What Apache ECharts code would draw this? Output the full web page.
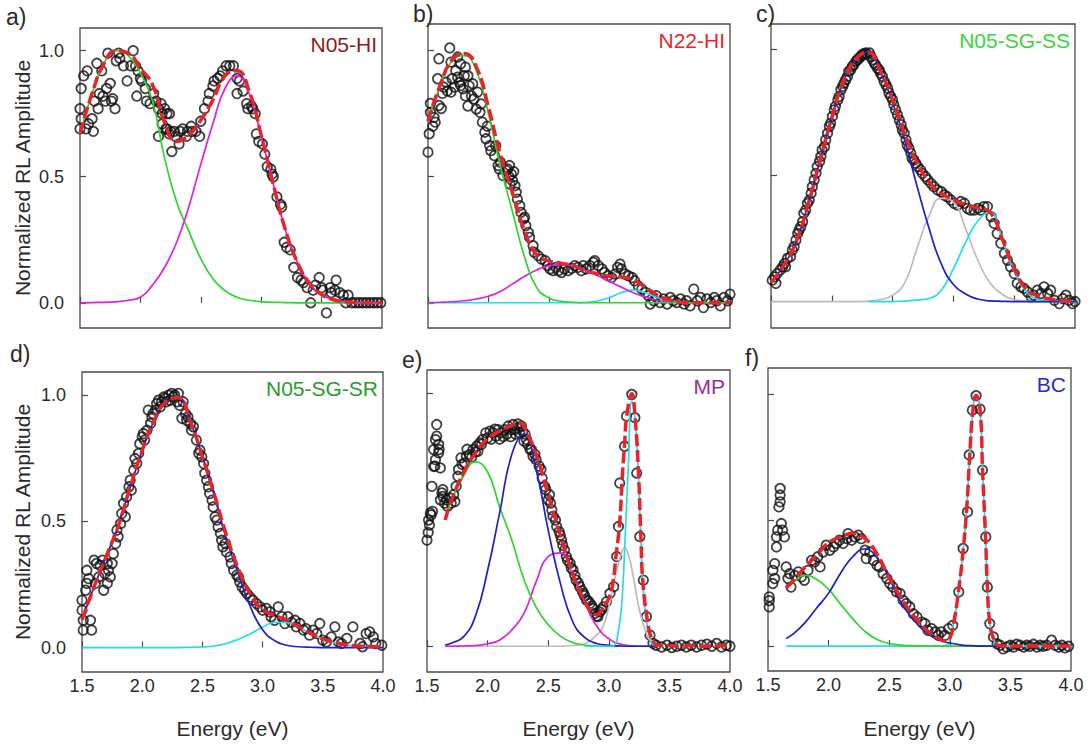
<!DOCTYPE html>
<html><head><meta charset="utf-8">
<script src="https://cdn.jsdelivr.net/npm/echarts@6/dist/echarts.min.js"></script>
<style>html,body{margin:0;padding:0;background:#fff}#c{width:1090px;height:744px}</style>
</head><body><div id="c"></div>
<script>
// ---------------- DATA ----------------
const energyTicks = [1.5, 2.0, 2.5, 3.0, 3.5, 4.0];
const ampTicks = [0, 0.5, 1.0];
const panelLetters = ['a)', 'b)', 'c)', 'd)', 'e)', 'f)'];
const sampleNames = ['N05-HI', 'N22-HI', 'N05-SG-SS', 'N05-SG-SR', 'MP', 'BC'];
const xTitle = 'Energy (eV)';
const yTitle = 'Normalized RL Amplitude';

// energy grid for the fitted curves of panels a-d
const E26 = [1.5,1.6,1.7,1.8,1.9,2.0,2.1,2.2,2.3,2.4,2.5,2.6,2.7,2.8,2.9,3.0,3.1,3.2,3.3,3.4,3.5,3.6,3.7,3.8,3.9,4.0];
// energy grid for broad components of panels e-f
const E19 = [1.65,1.7,1.8,1.9,2.0,2.1,2.2,2.3,2.4,2.5,2.6,2.7,2.8,2.9,3.0,3.1,3.2,3.3,3.4];

// ---- panel a: N05-HI ----
const ptsA = [[1.50,0.69],[1.50,0.77],[1.51,0.73],[1.51,0.85],[1.53,0.90],[1.55,0.69],[1.56,0.92],[1.57,0.71],[1.61,0.68],[1.60,0.73],[1.62,0.80],[1.64,0.95],[1.65,0.77],[1.66,0.83],[1.68,0.92],[1.69,0.82],[1.71,0.80],[1.72,0.85],[1.73,0.99],[1.75,0.87],[1.76,0.80],[1.77,0.81],[1.79,0.77],[1.80,0.96],[1.82,0.99],[1.83,0.97],[1.86,0.94],[1.89,0.88],[1.92,0.94],[1.94,1.00],[1.96,0.94],[1.98,0.92],[2.00,0.89],[1.97,0.82],[2.01,0.88],[2.04,0.85],[2.05,0.80],[2.08,0.79],[2.11,0.83],[2.13,0.80],[2.15,0.77],[2.17,0.79],[2.18,0.75],[2.20,0.77],[2.22,0.75],[2.24,0.75],[2.25,0.68],[2.15,0.66],[2.18,0.71],[2.21,0.69],[2.22,0.69],[2.24,0.67],[2.28,0.68],[2.26,0.60],[2.29,0.66],[2.32,0.63],[2.33,0.68],[2.35,0.69],[2.38,0.66],[2.39,0.68],[2.42,0.70],[2.43,0.68],[2.46,0.68],[2.49,0.66],[2.50,0.72],[2.53,0.77],[2.56,0.80],[2.57,0.83],[2.60,0.86],[2.61,0.88],[2.64,0.89],[2.66,0.90],[2.68,0.92],[2.71,0.94],[2.74,0.94],[2.77,0.94],[2.80,0.89],[2.80,0.83],[2.82,0.88],[2.85,0.84],[2.88,0.79],[2.89,0.77],[2.92,0.78],[2.93,0.77],[2.95,0.75],[2.96,0.67],[2.98,0.64],[3.01,0.63],[3.03,0.59],[3.05,0.54],[3.08,0.53],[3.09,0.51],[3.10,0.50],[3.13,0.42],[3.16,0.39],[3.17,0.38],[3.19,0.24],[3.21,0.22],[3.24,0.21],[3.27,0.14],[3.30,0.10],[3.33,0.09],[3.35,0.08],[3.38,0.06],[3.41,0.00],[3.43,0.05],[3.45,0.07],[3.48,0.10],[3.50,0.06],[3.51,0.05],[3.54,-0.04],[3.57,0.06],[3.58,0.04],[3.61,0.05],[3.62,0.09],[3.65,0.04],[3.68,0.03],[3.70,0.00],[3.72,0.03],[3.75,0.00],[3.78,0.00],[3.81,0.00],[3.84,0.00],[3.87,0.00],[3.90,0.00],[3.93,0.00],[3.96,0.00],[3.99,0.00]];
const fitA     = [0.67,0.83,0.95,1.00,0.99,0.93,0.865,0.715,0.64,0.665,0.725,0.805,0.90,0.92,0.84,0.665,0.47,0.29,0.16,0.078,0.033,0.012,0.004,0.001,0,0];
const greenA   = [0.67,0.83,0.95,1.00,0.98,0.91,0.80,0.575,0.40,0.285,0.175,0.095,0.048,0.022,0.01,0.005,0.002,0.001,0,0,0,0,0,0,0,0];
const magentaA = [0,0.001,0.002,0.004,0.01,0.022,0.07,0.14,0.24,0.38,0.55,0.71,0.85,0.90,0.83,0.66,0.47,0.29,0.16,0.078,0.033,0.012,0.004,0.001,0,0];

// ---- panel b: N22-HI ----
const ptsB = [[1.50,0.597],[1.51,0.67],[1.52,0.755],[1.52,0.79],[1.54,0.70],[1.55,0.735],[1.56,0.716],[1.58,0.888],[1.59,0.782],[1.59,0.967],[1.61,0.77],[1.62,0.83],[1.63,0.855],[1.65,0.874],[1.66,0.84],[1.68,1.01],[1.69,0.954],[1.69,0.835],[1.70,0.888],[1.72,0.855],[1.73,0.92],[1.745,0.974],[1.745,0.894],[1.76,0.874],[1.77,0.947],[1.77,0.861],[1.79,0.848],[1.80,0.90],[1.81,0.934],[1.81,0.82],[1.83,0.90],[1.83,0.78],[1.84,0.861],[1.86,0.82],[1.87,0.868],[1.88,0.808],[1.90,0.768],[1.91,0.835],[1.93,0.755],[1.94,0.788],[1.95,0.716],[1.97,0.676],[1.98,0.65],[1.99,0.70],[2.01,0.623],[2.02,0.603],[2.05,0.583],[2.06,0.623],[2.08,0.544],[2.09,0.53],[2.10,0.557],[2.12,0.504],[2.15,0.524],[2.16,0.53],[2.17,0.50],[2.175,0.544],[2.18,0.47],[2.19,0.51],[2.20,0.484],[2.21,0.52],[2.22,0.464],[2.23,0.438],[2.24,0.411],[2.26,0.385],[2.27,0.358],[2.29,0.332],[2.30,0.339],[2.31,0.306],[2.33,0.279],[2.34,0.259],[2.37,0.226],[2.38,0.20],[2.41,0.187],[2.44,0.173],[2.47,0.167],[2.49,0.147],[2.51,0.134],[2.535,0.127],[2.56,0.14],[2.58,0.127],[2.605,0.12],[2.63,0.134],[2.66,0.127],[2.69,0.136],[2.715,0.147],[2.74,0.14],[2.77,0.127],[2.785,0.147],[2.81,0.134],[2.84,0.147],[2.87,0.16],[2.88,0.167],[2.91,0.147],[2.94,0.134],[2.96,0.12],[2.99,0.107],[3.02,0.10],[3.05,0.114],[3.07,0.14],[3.09,0.153],[3.10,0.134],[3.13,0.114],[3.16,0.107],[3.19,0.10],[3.21,0.087],[3.24,0.067],[3.27,0.054],[3.30,0.041],[3.325,0.028],[3.34,-0.005],[3.37,0.008],[3.39,0.028],[3.42,0.001],[3.45,0.015],[3.48,-0.005],[3.505,0.021],[3.53,0.008],[3.56,0.001],[3.59,0.015],[3.62,-0.005],[3.64,0.008],[3.67,-0.012],[3.70,0.054],[3.73,0.008],[3.755,0.021],[3.78,-0.019],[3.81,0.015],[3.84,0.001],[3.87,0.021],[3.89,0.008],[3.92,-0.012],[3.95,0.021],[3.98,0.008],[4.0,0.034]];
const fitB     = [0.72,0.862,0.964,0.988,0.935,0.776,0.585,0.435,0.285,0.19,0.166,0.157,0.147,0.129,0.115,0.105,0.102,0.09,0.062,0.03,0.011,0.002,0,0,0,0];
const greenB   = [0.72,0.86,0.96,0.98,0.92,0.75,0.54,0.36,0.18,0.06,0.02,0.006,0.002,0,0,0,0,0,0,0,0,0,0,0,0,0];
const magentaB = [0.001,0.002,0.004,0.008,0.015,0.026,0.045,0.075,0.105,0.13,0.146,0.151,0.145,0.128,0.108,0.085,0.062,0.04,0.022,0.01,0.004,0.001,0,0,0,0];
const cyanB    = [0,0,0,0,0,0,0,0,0,0,0,0,0,0.001,0.007,0.02,0.04,0.05,0.04,0.02,0.007,0.001,0,0,0,0];

// ---- panel c: N05-SG-SS ----
const ptsC = [[1.51,0.085],[1.53,0.098],[1.54,0.072],[1.55,0.111],[1.575,0.125],[1.595,0.138],[1.61,0.151],[1.62,0.138],[1.635,0.171],[1.66,0.178],[1.675,0.204],[1.69,0.218],[1.705,0.244],[1.72,0.27],[1.73,0.284],[1.745,0.297],[1.76,0.317],[1.77,0.35],[1.785,0.363],[1.80,0.39],[1.815,0.403],[1.83,0.43],[1.84,0.456],[1.855,0.483],[1.87,0.509],[1.88,0.536],[1.90,0.556],[1.91,0.576],[1.92,0.602],[1.94,0.615],[1.95,0.642],[1.965,0.668],[1.98,0.695],[1.99,0.708],[2.005,0.735],[2.02,0.761],[2.03,0.775],[2.05,0.801],[2.06,0.814],[2.075,0.841],[2.09,0.854],[2.10,0.867],[2.115,0.881],[2.13,0.894],[2.14,0.914],[2.155,0.92],[2.17,0.934],[2.18,0.94],[2.20,0.954],[2.21,0.96],[2.225,0.967],[2.24,0.973],[2.25,0.98],[2.265,0.984],[2.28,0.987],[2.29,0.98],[2.31,0.987],[2.32,0.973],[2.335,0.96],[2.35,0.947],[2.36,0.94],[2.375,0.927],[2.39,0.92],[2.40,0.907],[2.415,0.894],[2.43,0.874],[2.445,0.861],[2.46,0.847],[2.47,0.828],[2.485,0.814],[2.50,0.801],[2.51,0.781],[2.525,0.761],[2.54,0.741],[2.555,0.721],[2.57,0.702],[2.58,0.682],[2.595,0.668],[2.61,0.642],[2.62,0.622],[2.635,0.609],[2.65,0.589],[2.66,0.569],[2.675,0.562],[2.69,0.549],[2.705,0.536],[2.73,0.523],[2.745,0.509],[2.77,0.496],[2.79,0.483],[2.815,0.469],[2.84,0.456],[2.87,0.443],[2.90,0.436],[2.925,0.423],[2.95,0.416],[2.98,0.403],[3.005,0.39],[3.035,0.383],[3.06,0.397],[3.09,0.39],[3.115,0.37],[3.14,0.363],[3.17,0.363],[3.20,0.37],[3.225,0.363],[3.25,0.377],[3.28,0.377],[3.31,0.337],[3.335,0.31],[3.36,0.27],[3.39,0.231],[3.42,0.191],[3.445,0.164],[3.47,0.138],[3.50,0.111],[3.525,0.072],[3.555,0.058],[3.58,0.052],[3.61,0.038],[3.64,0.019],[3.66,0.025],[3.69,0.045],[3.72,0.032],[3.745,0.058],[3.775,0.032],[3.80,0.045],[3.83,0.005],[3.87,-0.008],[3.90,0.012],[3.925,0.025],[3.95,0.005],[3.98,-0.008],[4.0,0]];
const fitC  = [0.075,0.14,0.23,0.377,0.555,0.73,0.88,0.965,0.99,0.915,0.80,0.665,0.555,0.475,0.43,0.405,0.385,0.372,0.355,0.25,0.13,0.05,0.022,0.01,0.004,0];
const blueC = [0.075,0.14,0.23,0.377,0.555,0.73,0.88,0.965,0.99,0.91,0.79,0.64,0.46,0.29,0.15,0.068,0.03,0.01,0.003,0.001,0,0,0,0,0,0];
const grayC = [0,0,0,0,0,0,0,0,0.002,0.008,0.025,0.075,0.21,0.34,0.41,0.395,0.29,0.165,0.075,0.03,0.008,0.002,0,0,0,0];
const cyanC = [null,null,null,null,null,null,null,null,0,0,0,0.002,0.006,0.012,0.045,0.13,0.235,0.32,0.355,0.25,0.12,0.04,0.008,0.001,0,0];

// ---- panel d: N05-SG-SR ----
const ptsD = [[1.50,0.188],[1.50,0.148],[1.51,0.108],[1.51,0.069],[1.53,0.227],[1.54,0.306],[1.54,0.254],[1.555,0.273],[1.57,0.108],[1.58,0.069],[1.60,0.346],[1.61,0.254],[1.62,0.333],[1.64,0.28],[1.65,0.326],[1.67,0.346],[1.68,0.227],[1.69,0.293],[1.71,0.254],[1.71,0.333],[1.72,0.306],[1.735,0.28],[1.75,0.333],[1.76,0.372],[1.78,0.412],[1.79,0.465],[1.80,0.439],[1.82,0.491],[1.83,0.531],[1.845,0.571],[1.86,0.518],[1.87,0.597],[1.89,0.637],[1.90,0.663],[1.91,0.624],[1.93,0.703],[1.94,0.749],[1.955,0.729],[1.97,0.769],[1.98,0.808],[2.00,0.835],[2.01,0.848],[2.02,0.822],[2.04,0.861],[2.05,0.941],[2.07,0.888],[2.08,0.914],[2.09,0.927],[2.11,0.941],[2.12,0.967],[2.135,0.98],[2.15,0.954],[2.16,0.974],[2.18,0.993],[2.19,0.987],[2.20,0.974],[2.22,1.0],[2.23,0.98],[2.245,1.007],[2.26,0.993],[2.27,1.0],[2.29,0.974],[2.30,1.007],[2.31,0.96],[2.33,0.908],[2.34,0.974],[2.36,0.927],[2.37,0.90],[2.38,0.914],[2.40,0.888],[2.41,0.861],[2.425,0.875],[2.45,0.822],[2.47,0.769],[2.48,0.782],[2.495,0.756],[2.51,0.729],[2.52,0.69],[2.535,0.663],[2.55,0.637],[2.56,0.61],[2.58,0.584],[2.59,0.557],[2.605,0.518],[2.62,0.505],[2.63,0.478],[2.65,0.452],[2.66,0.425],[2.67,0.399],[2.69,0.412],[2.70,0.379],[2.73,0.359],[2.74,0.333],[2.76,0.306],[2.785,0.287],[2.80,0.28],[2.81,0.26],[2.83,0.24],[2.85,0.227],[2.87,0.214],[2.895,0.20],[2.92,0.188],[2.95,0.174],[2.98,0.161],[3.0,0.148],[3.03,0.155],[3.06,0.141],[3.07,0.122],[3.10,0.108],[3.13,0.161],[3.16,0.122],[3.185,0.095],[3.21,0.122],[3.24,0.10],[3.27,0.108],[3.28,0.082],[3.31,0.095],[3.34,0.069],[3.36,0.075],[3.39,0.049],[3.42,0.069],[3.45,0.055],[3.475,0.095],[3.50,0.029],[3.53,0.022],[3.57,0.042],[3.60,0.082],[3.63,0.022],[3.655,0.016],[3.70,0.036],[3.75,0.082],[3.81,0.016],[3.83,0.003],[3.86,0.055],[3.89,0.062],[3.92,0.042],[3.94,0.016],[3.99,0.009]];
const fitD  = [0.11,0.24,0.36,0.48,0.635,0.78,0.90,0.975,0.99,0.895,0.757,0.605,0.445,0.31,0.21,0.15,0.127,0.109,0.083,0.056,0.034,0.02,0.011,0.006,0.004,0.003];
const blueD = [0.11,0.24,0.36,0.48,0.635,0.78,0.90,0.975,0.99,0.895,0.757,0.60,0.43,0.29,0.16,0.07,0.027,0.009,0.003,0.001,0,0,0,0,0,0];
const cyanD = [0,0,0,0,0,0,0,0,0,0.001,0.002,0.006,0.016,0.033,0.055,0.08,0.10,0.10,0.08,0.055,0.034,0.019,0.01,0.005,0.002,0.001];

// ---- panel e: MP ----
const ptsE = [[1.50,0.42],[1.51,0.45],[1.513,0.50],[1.52,0.48],[1.527,0.527],[1.535,0.52],[1.54,0.633],[1.545,0.534],[1.555,0.712],[1.555,0.779],[1.565,0.713],[1.57,0.739],[1.57,0.818],[1.58,0.878],[1.58,0.832],[1.596,0.799],[1.596,0.766],[1.60,0.779],[1.61,0.706],[1.61,0.58],[1.623,0.607],[1.63,0.62],[1.63,0.593],[1.645,0.567],[1.66,0.58],[1.67,0.554],[1.69,0.587],[1.70,0.567],[1.72,0.60],[1.73,0.573],[1.74,0.633],[1.755,0.673],[1.76,0.70],[1.78,0.746],[1.79,0.72],[1.81,0.726],[1.825,0.752],[1.83,0.78],[1.85,0.759],[1.87,0.75],[1.88,0.779],[1.90,0.77],[1.91,0.792],[1.92,0.772],[1.935,0.805],[1.95,0.80],[1.96,0.819],[1.985,0.845],[2.00,0.825],[2.02,0.852],[2.03,0.82],[2.045,0.845],[2.06,0.86],[2.07,0.832],[2.085,0.858],[2.10,0.82],[2.11,0.845],[2.13,0.83],[2.14,0.858],[2.16,0.84],[2.17,0.872],[2.19,0.83],[2.195,0.858],[2.21,0.878],[2.225,0.858],[2.23,0.84],[2.245,0.865],[2.25,0.88],[2.265,0.845],[2.28,0.872],[2.29,0.85],[2.30,0.812],[2.31,0.84],[2.32,0.819],[2.33,0.80],[2.35,0.779],[2.36,0.78],[2.375,0.752],[2.39,0.76],[2.40,0.739],[2.425,0.713],[2.44,0.70],[2.45,0.666],[2.47,0.633],[2.48,0.62],[2.50,0.58],[2.51,0.60],[2.52,0.567],[2.53,0.54],[2.54,0.514],[2.56,0.50],[2.57,0.474],[2.59,0.454],[2.60,0.44],[2.61,0.421],[2.62,0.40],[2.635,0.381],[2.65,0.355],[2.66,0.34],[2.68,0.328],[2.69,0.31],[2.705,0.302],[2.72,0.28],[2.73,0.262],[2.75,0.25],[2.76,0.236],[2.78,0.22],[2.79,0.209],[2.80,0.20],[2.816,0.183],[2.83,0.18],[2.845,0.17],[2.86,0.16],[2.87,0.15],[2.885,0.13],[2.90,0.12],[2.91,0.117],[2.925,0.136],[2.94,0.145],[2.955,0.156],[2.98,0.176],[3.01,0.209],[3.04,0.236],[3.065,0.355],[3.08,0.474],[3.09,0.646],[3.13,0.792],[3.146,0.911],[3.19,0.997],[3.215,0.905],[3.23,0.686],[3.256,0.434],[3.285,0.262],[3.31,0.117],[3.34,0.044],[3.365,0.011],[3.39,0.004],[3.435,-0.003],[3.48,0.004],[3.52,-0.005],[3.56,0],[3.60,0.004],[3.64,-0.003],[3.68,0.004],[3.725,-0.003],[3.765,0.004],[3.81,0.008],[3.85,0],[3.89,0.011],[3.93,-0.003],[3.97,0.004],[4.0,0]];
const fitEx = [1.65,1.7,1.8,1.9,2.0,2.1,2.2,2.27,2.3,2.4,2.5,2.6,2.7,2.8,2.9,2.95,3.0,3.03,3.06,3.09,3.11,3.13,3.15,3.19,3.217,3.245,3.264,3.28,3.314,3.34,3.368,3.4,3.5,3.6,3.7,3.8,3.9,4.0];
const fitEy = [0.50,0.575,0.686,0.765,0.822,0.852,0.875,0.885,0.87,0.76,0.60,0.44,0.29,0.18,0.125,0.15,0.19,0.24,0.36,0.49,0.66,0.80,0.92,1.0,0.905,0.686,0.441,0.26,0.117,0.05,0.017,0.005,0.002,0,0.003,0,0.002,0.003];
const greenE   = [0.50,0.575,0.673,0.73,0.69,0.55,0.42,0.265,0.155,0.085,0.04,0.015,0.005,0.001,0,0,0,0,0];
const blueE    = [0.005,0.012,0.037,0.12,0.30,0.53,0.76,0.84,0.70,0.46,0.25,0.10,0.035,0.011,0.004,0.001,0,0,0];
const magentaE = [0,0,0.001,0.003,0.01,0.025,0.065,0.13,0.255,0.355,0.37,0.285,0.175,0.08,0.03,0.008,0.002,0,0];
const grayEx = [1.65,2.6,2.7,2.8,2.9,2.95,3.0,3.05,3.1,3.13,3.16,3.2,3.25,3.3,3.35,3.4,3.45];
const grayEy = [0,0,0.003,0.01,0.045,0.075,0.155,0.27,0.36,0.39,0.365,0.28,0.15,0.065,0.015,0.002,0];
const cyanEx = [2.8,3.0,3.04,3.08,3.11,3.135,3.16,3.19,3.22,3.245,3.265,3.28,3.31,3.34,3.37,3.4,3.45];
const cyanEy = [0,0,0.002,0.064,0.19,0.434,0.70,0.97,0.88,0.67,0.42,0.25,0.10,0.035,0.008,0,0];

// ---- panel f: BC ----
const ptsF = [[1.60,0.625],[1.60,0.599],[1.60,0.572],[1.59,0.552],[1.61,0.486],[1.58,0.46],[1.57,0.433],[1.62,0.46],[1.57,0.393],[1.635,0.433],[1.555,0.327],[1.54,0.30],[1.555,0.268],[1.54,0.248],[1.51,0.195],[1.51,0.155],[1.51,0.18],[1.65,0.314],[1.665,0.268],[1.69,0.234],[1.68,0.287],[1.72,0.28],[1.75,0.294],[1.775,0.274],[1.80,0.261],[1.83,0.30],[1.86,0.34],[1.885,0.334],[1.91,0.354],[1.93,0.314],[1.955,0.373],[1.98,0.40],[2.01,0.38],[2.04,0.393],[2.065,0.407],[2.09,0.42],[2.12,0.407],[2.15,0.426],[2.16,0.446],[2.19,0.42],[2.215,0.433],[2.245,0.44],[2.27,0.426],[2.30,0.38],[2.31,0.347],[2.34,0.373],[2.37,0.34],[2.40,0.32],[2.42,0.314],[2.45,0.287],[2.48,0.268],[2.505,0.248],[2.53,0.234],[2.56,0.215],[2.59,0.208],[2.615,0.181],[2.64,0.168],[2.67,0.155],[2.70,0.128],[2.73,0.115],[2.77,0.095],[2.795,0.089],[2.82,0.062],[2.85,0.069],[2.88,0.056],[2.905,0.042],[2.93,0.056],[2.96,0.042],[2.99,0.069],[3.024,0.082],[3.074,0.215],[3.11,0.387],[3.146,0.532],[3.16,0.758],[3.186,0.936],[3.217,0.993],[3.25,0.94],[3.27,0.698],[3.297,0.433],[3.31,0.234],[3.33,0.089],[3.36,0.036],[3.39,0.009],[3.415,0.003],[3.44,-0.011],[3.47,-0.004],[3.50,0.003],[3.525,-0.004],[3.55,0.007],[3.58,0.003],[3.61,-0.004],[3.635,0.003],[3.66,-0.001],[3.69,0.007],[3.72,-0.004],[3.745,0.003],[3.77,-0.001],[3.80,0.003],[3.84,0.023],[3.87,0.003],[3.90,-0.004],[3.925,0.003],[3.95,-0.007],[3.98,-0.001]];
const fitFx = [1.65,1.7,1.8,1.9,2.0,2.1,2.2,2.3,2.4,2.5,2.6,2.7,2.8,2.9,2.97,3.0,3.03,3.07,3.11,3.14,3.165,3.19,3.217,3.25,3.27,3.295,3.31,3.33,3.36,3.39,3.45,3.6,3.8,4.0];
const fitFy = [0.23,0.255,0.31,0.36,0.41,0.433,0.447,0.427,0.365,0.27,0.19,0.12,0.067,0.032,0.02,0.03,0.085,0.21,0.38,0.55,0.76,0.93,0.995,0.935,0.70,0.43,0.235,0.09,0.03,0.005,0,0,0,0];
const greenF = [0.23,0.25,0.28,0.265,0.225,0.165,0.108,0.058,0.026,0.01,0.004,0.001,0,0,0,0,0,0,0];
const blueF  = [0.03,0.045,0.09,0.15,0.21,0.29,0.355,0.385,0.35,0.27,0.17,0.105,0.055,0.026,0.012,0.004,0.001,0,0];
const cyanFx = [1.65,2.9,2.98,3.0,3.03,3.07,3.11,3.14,3.165,3.19,3.217,3.25,3.27,3.295,3.31,3.33,3.36,3.39,3.45,4.0];
const cyanFy = [0,0,0.005,0.03,0.085,0.21,0.38,0.55,0.76,0.93,0.995,0.935,0.70,0.43,0.235,0.09,0.03,0.003,0,0];

// ---------------- STYLE / LAYOUT ----------------
const FONT = "'Liberation Sans', Arial, Helvetica, sans-serif";
const TXT = '#2a2a2a';
const FRAME = '#4a4a4a';
const COL = {green:'#2ed52e', magenta:'#e020e0', cyan:'#1fe0e8', blue:'#1f1fc4', gray:'#bcbcbc', red:'#e8232a'};
const nameColors = ['#8e1b1b', '#e8262c', '#3ad63a', '#2c9a2c', '#9b2a9b', '#2a2ad2'];

const layout = [
  {left:80,  top:28,  width:302, height:300, yMin:-0.1,   yMax:1.09,  xLab:false, yLab:true},
  {left:428, top:24,  width:302, height:304, yMin:-0.1,   yMax:1.105, xLab:false, yLab:false},
  {left:771, top:24,  width:304, height:304, yMin:-0.105, yMax:1.102, xLab:false, yLab:false},
  {left:82,  top:372, width:301, height:300, yMin:-0.097, yMax:1.092, xLab:true,  yLab:true},
  {left:427, top:370, width:303, height:302, yMin:-0.102, yMax:1.094, xLab:true,  yLab:false},
  {left:768, top:368, width:303, height:303, yMin:-0.099, yMax:1.103, xLab:true,  yLab:false}
];
const letterPos = [[6,5],[413,2],[756,2],[10,342],[402,348],[745,346]];

function zip(xs, ys) {
  const out = [];
  for (let i = 0; i < xs.length; i++) if (ys[i] !== null) out.push([xs[i], ys[i]]);
  return out;
}

const panels = [
  {pts: ptsA, fit: zip(E26, fitA), comps: [['green', zip(E26, greenA)], ['magenta', zip(E26, magentaA)]]},
  {pts: ptsB, fit: zip(E26, fitB), comps: [['cyan', zip(E26, cyanB)], ['magenta', zip(E26, magentaB)], ['green', zip(E26, greenB)]]},
  {pts: ptsC, fit: zip(E26, fitC), comps: [['gray', zip(E26, grayC)], ['cyan', zip(E26, cyanC)], ['blue', zip(E26, blueC)]]},
  {pts: ptsD, fit: zip(E26, fitD), comps: [['cyan', zip(E26, cyanD)], ['blue', zip(E26, blueD)]]},
  {pts: ptsE, fit: zip(fitEx, fitEy), comps: [['gray', zip(grayEx, grayEy)], ['magenta', zip(E19, magentaE)], ['green', zip(E19, greenE)], ['blue', zip(E19, blueE)], ['cyan', zip(cyanEx, cyanEy)]]},
  {pts: ptsF, fit: zip(fitFx, fitFy), comps: [['cyan', zip(cyanFx, cyanFy)], ['green', zip(E19, greenF)], ['blue', zip(E19, blueF)]]}
];

const grids = [], xAxes = [], yAxes = [], series = [], graphics = [];
layout.forEach((L, i) => {
  grids.push({left:L.left, top:L.top, width:L.width, height:L.height, show:true,
    borderColor:FRAME, borderWidth:1.3, backgroundColor:'transparent', containLabel:false});
  xAxes.push({type:'value', gridIndex:i, min:energyTicks[0], max:energyTicks[energyTicks.length-1], interval:0.5,
    axisLine:{show:false}, splitLine:{show:false},
    axisTick:{show:true, inside:true, length:6, lineStyle:{color:FRAME, width:1.2}},
    axisLabel:{show:L.xLab, formatter:v => v.toFixed(1), fontSize:18, color:TXT, fontFamily:FONT, margin:5}});
  yAxes.push({type:'value', gridIndex:i, min:L.yMin, max:L.yMax,
    axisLine:{show:false}, splitLine:{show:false},
    axisTick:{show:true, inside:true, length:6, customValues:ampTicks, lineStyle:{color:FRAME, width:1.2}},
    axisLabel:{show:L.yLab, customValues:ampTicks, formatter:v => v.toFixed(1), fontSize:18, color:TXT, fontFamily:FONT, margin:16}});

  const P = panels[i];
  series.push({type:'scatter', xAxisIndex:i, yAxisIndex:i, data:P.pts, symbol:'circle', symbolSize:9.5, z:2,
    itemStyle:{color:'rgba(255,255,255,0)', borderColor:'#111', borderWidth:1.8}, silent:true});
  P.comps.forEach(([c, d]) => {
    series.push({type:'line', xAxisIndex:i, yAxisIndex:i, data:d, showSymbol:false, smooth:0.5, z:3,
      lineStyle:{color:COL[c], width:1.7}, silent:true});
  });
  series.push({type:'line', xAxisIndex:i, yAxisIndex:i, data:P.fit, showSymbol:false, smooth:0.5, z:4,
    lineStyle:{color:COL.red, width:3.5, type:[12,4]}, silent:true});

  graphics.push({type:'text', x:letterPos[i][0], y:letterPos[i][1],
    style:{text:panelLetters[i], fontSize:23, fill:TXT, fontFamily:FONT, textVerticalAlign:'top'}});
  graphics.push({type:'text', x:L.left + L.width - 5, y:L.top + 16,
    style:{text:sampleNames[i], fontSize:21, fill:nameColors[i], fontFamily:FONT, align:'right', verticalAlign:'middle'}});
  if (L.xLab) {
    graphics.push({type:'text', x:L.left + L.width/2, y:728,
      style:{text:xTitle, fontSize:21, fill:TXT, fontFamily:FONT, align:'center', verticalAlign:'middle'}});
  }
  if (L.yLab) {
    graphics.push({type:'text', x:22, y:L.top + L.height/2, rotation:Math.PI/2,
      style:{text:yTitle, fontSize:21, fill:TXT, fontFamily:FONT, align:'center', verticalAlign:'middle'}});
  }
});

const chart = echarts.init(document.getElementById('c'), null, {renderer:'svg', width:1090, height:744});
chart.setOption({
  backgroundColor:'#ffffff',
  animation:false,
  grid:grids, xAxis:xAxes, yAxis:yAxes, series:series, graphic:graphics
});
</script></body></html>
